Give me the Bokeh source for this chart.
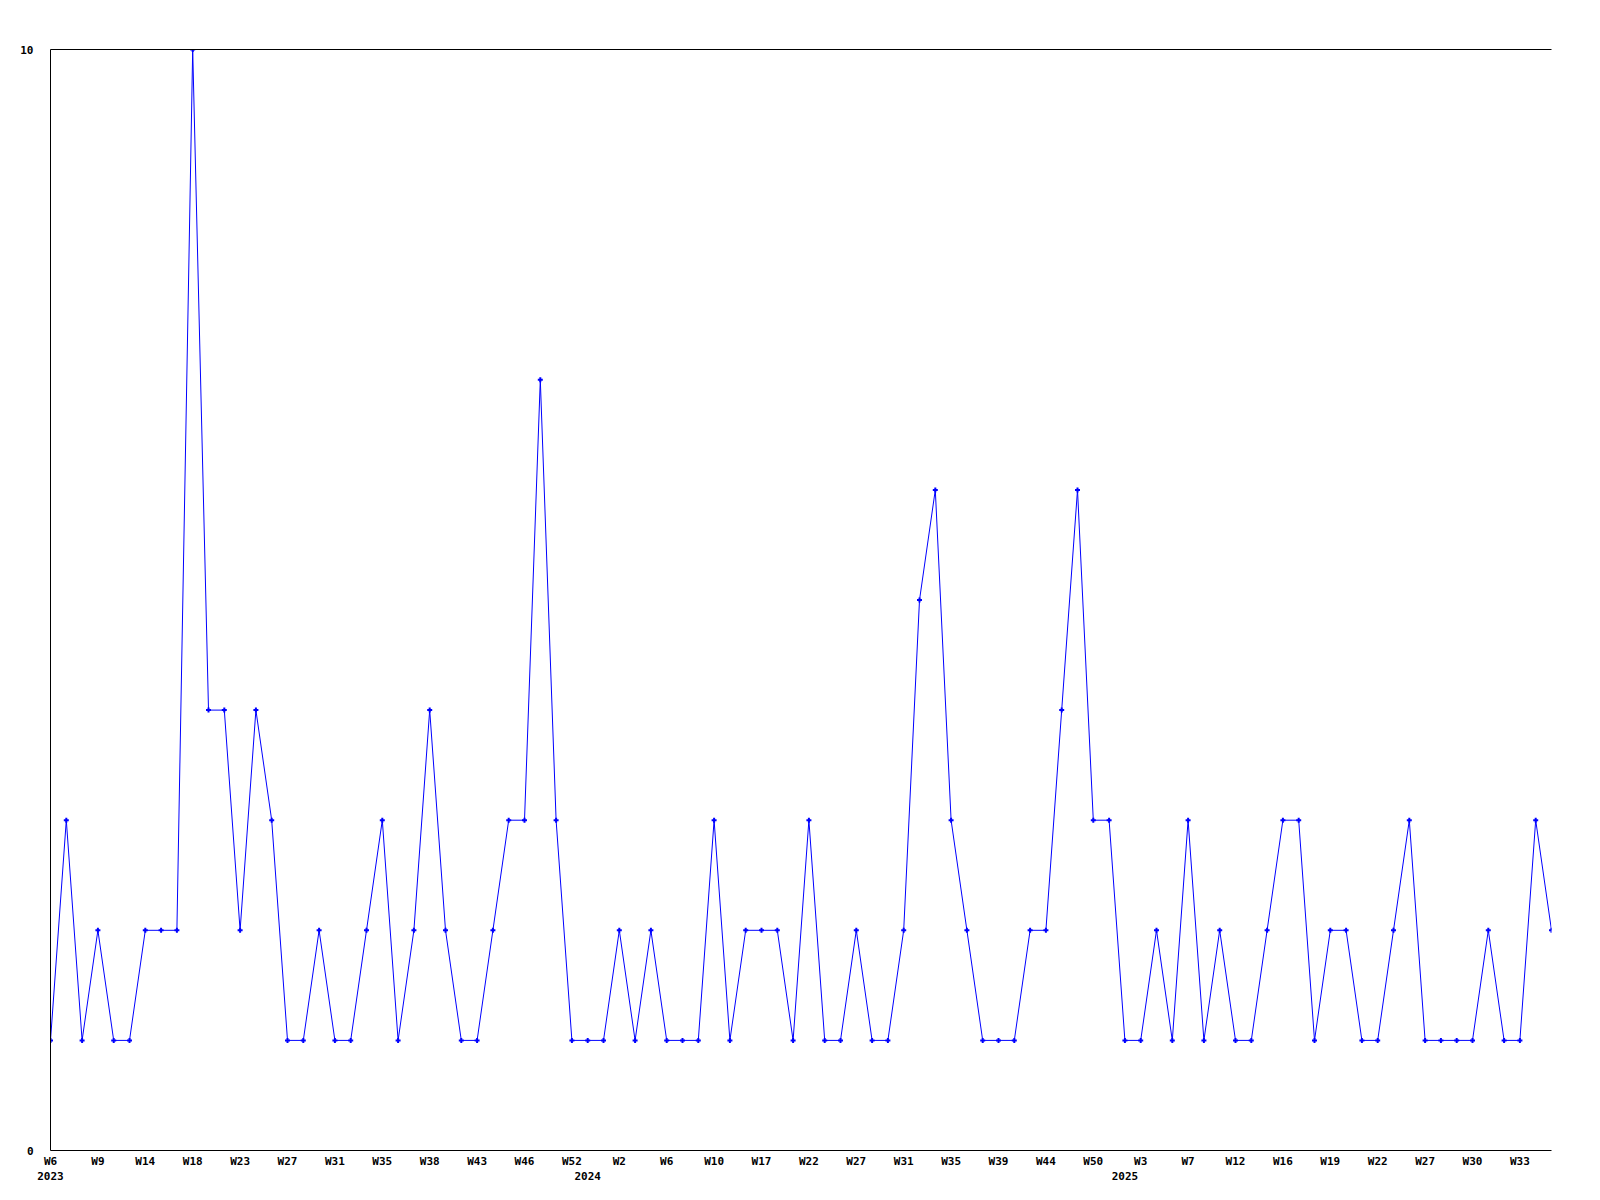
from bokeh.plotting import figure
from bokeh.models import Range1d, FixedTicker, LinearAxis, ColumnDataSource
from bokeh.embed import file_html
from bokeh.resources import INLINE

values = [1, 3, 1, 2, 1, 1, 2, 2, 2, 10, 4, 4, 2, 4, 3, 1, 1, 2, 1, 1,
          2, 3, 1, 2, 4, 2, 1, 1, 2, 3, 3, 7, 3, 1, 1, 1, 2, 1, 2, 1,
          1, 1, 3, 1, 2, 2, 2, 1, 3, 1, 1, 2, 1, 1, 2, 5, 6, 3, 2, 1,
          1, 1, 2, 2, 4, 6, 3, 3, 1, 1, 2, 1, 3, 1, 2, 1, 1, 2, 3, 3,
          1, 2, 2, 1, 1, 2, 3, 1, 1, 1, 1, 2, 1, 1, 3, 2]
week_labels = ["W6", "W9", "W14", "W18", "W23", "W27", "W31", "W35", "W38", "W43", "W46",
               "W52", "W2", "W6", "W10", "W17", "W22", "W27", "W31", "W35", "W39", "W44", "W50",
               "W3", "W7", "W12", "W16", "W19", "W22", "W27", "W30", "W33"]
week_tick_idx = [3 * i for i in range(len(week_labels))]
year_labels = ["2023", "2024", "2025"]
year_tick_idx = [0, 34, 68]
y_ticks = [0, 10]

x = list(range(len(values)))
src = ColumnDataSource(dict(x=x, y=values))

FONT = "DejaVu Sans Mono"
FS = "11px"

p = figure(width=1592, height=1192, output_backend="svg", toolbar_location=None,
           x_range=Range1d(0, len(values) - 1), y_range=Range1d(0, 10),
           min_border_left=50, min_border_right=41, min_border_top=49, min_border_bottom=42,
           background_fill_color="white", border_fill_color="white")
p.outline_line_color = None
p.grid.visible = False

p.line("x", "y", source=src, line_color="#0000ff", line_width=1)
p.scatter("x", "y", source=src, marker="cross", size=5, line_color="#0000ff", line_width=2)

# x axis (weeks)
xa = p.xaxis[0]
xa.ticker = FixedTicker(ticks=week_tick_idx)
xa.major_label_overrides = {t: l for t, l in zip(week_tick_idx, week_labels)}
xa.major_tick_line_color = None
xa.minor_tick_line_color = None
xa.major_tick_out = 0
xa.axis_line_color = "black"
xa.major_label_standoff = 4
xa.major_label_text_font = FONT
xa.major_label_text_font_size = FS
xa.major_label_text_font_style = "bold"
xa.major_label_text_color = "black"

# year axis
ya2 = LinearAxis(ticker=FixedTicker(ticks=year_tick_idx),
                 major_label_overrides={t: l for t, l in zip(year_tick_idx, year_labels)},
                 major_tick_line_color=None, minor_tick_line_color=None, major_tick_out=0,
                 axis_line_color=None, major_label_standoff=1,
                 major_label_text_font=FONT, major_label_text_font_size=FS,
                 major_label_text_font_style="bold", major_label_text_color="black")
p.add_layout(ya2, "below")

# y axis
ya = p.yaxis[0]
ya.ticker = FixedTicker(ticks=y_ticks)
ya.major_tick_line_color = None
ya.minor_tick_line_color = None
ya.major_tick_out = 0
ya.axis_line_color = "black"
ya.major_label_standoff = 17
ya.major_label_text_font = FONT
ya.major_label_text_font_size = FS
ya.major_label_text_font_style = "bold"
ya.major_label_text_color = "black"

# top border line
top = LinearAxis(ticker=FixedTicker(ticks=[]), major_tick_line_color=None,
                 minor_tick_line_color=None, major_label_text_font_size="0px",
                 axis_line_color="black")
p.add_layout(top, "above")

open("out.html", "w").write(file_html(p, INLINE))
